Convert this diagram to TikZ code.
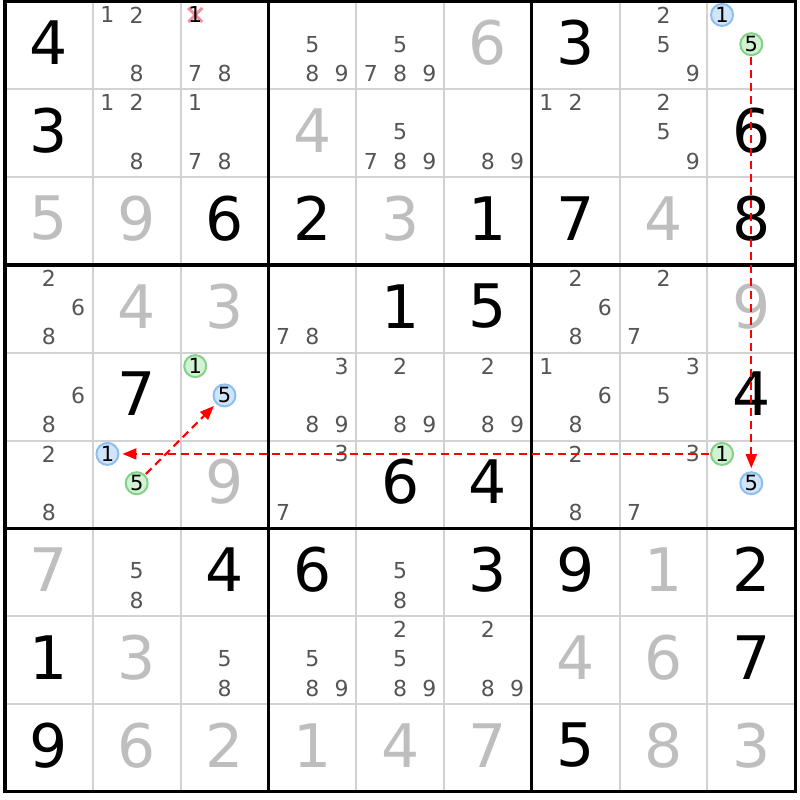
\documentclass[tikz,border=0pt]{standalone}
\usepackage{fontspec}
\setmainfont{DejaVu Sans}
\usetikzlibrary{arrows.meta,calc}
\definecolor{candgray}{RGB}{85,85,85}
\definecolor{solvedgray}{RGB}{190,190,190}
\definecolor{thingrid}{RGB}{210,210,210}
\definecolor{bluefill}{RGB}{208,228,250}
\definecolor{blueline}{RGB}{140,190,240}
\definecolor{greenfill}{RGB}{210,242,212}
\definecolor{greenline}{RGB}{130,210,135}
\definecolor{crossred}{RGB}{245,145,155}
\tikzset{
  givenst/.style={inner sep=0pt,font=\fontsize{60}{60}\selectfont,text=black},
  solvedst/.style={inner sep=0pt,font=\fontsize{60}{60}\selectfont,text=solvedgray},
  candst/.style={inner sep=0pt,font=\fontsize{22}{22}\selectfont,text=candgray},
  bluecirc/.style={circle,draw=blueline,fill=bluefill,line width=2pt,minimum size=22pt,inner sep=0pt,font=\fontsize{21}{21}\selectfont,text=black},
  greencirc/.style={circle,draw=greenline,fill=greenfill,line width=2pt,minimum size=22pt,inner sep=0pt,font=\fontsize{21}{21}\selectfont,text=black},
  chain/.style={draw=red,line width=2pt,dash pattern=on 8pt off 5pt,-{Triangle[length=14pt,width=11pt,fill=red]},shorten >=3pt,shorten <=1pt},
  thinline/.style={thingrid,line width=2pt},
  thickline/.style={black,line width=3.2pt},
}
\newcommand\sdkgiven[3]{\node[givenst] (v-#1-#2) at ({5+(#2-0.5)*87.8},{1.5+(#1-0.5)*87.8-2.5}) {#3};}
\newcommand\sdksolved[3]{\node[solvedst] (v-#1-#2) at ({5+(#2-0.5)*87.8},{1.5+(#1-0.5)*87.8-2.5}) {#3};}
\newcommand\sdkpos[3]{({5+(#2-1)*87.8+(mod(#3-1,3)+0.5)*29.267},{1.5+(#1-1)*87.8+(floor((#3-1)/3)+0.5)*29.267-1.2})}
\newcommand\sdkcand[3]{\node[candst] (k-#1-#2-#3) at \sdkpos{#1}{#2}{#3} {#3};}
\newcommand\sdkcands[3]{\foreach \sdkd in {#3}{\sdkcand{#1}{#2}{\sdkd}}}
\begin{document}
\begin{tikzpicture}[x=1pt,y=-1pt]
\useasboundingbox (0,0) rectangle (800,800);
\fill[white] (0,0) rectangle (800,800);
% thin grid lines
\foreach \i in {1,2,4,5,7,8}{
  \draw[thinline] ({5+\i*87.8},1.5) -- ({5+\i*87.8},791.7);
  \draw[thinline] (5,{1.5+\i*87.8}) -- (795.2,{1.5+\i*87.8});
}
% thick grid lines
\foreach \i in {0,3,6,9}{
  \draw[thickline] ({5+\i*87.8},0) -- ({5+\i*87.8},793.2);
  \draw[thickline] (3.4,{1.5+\i*87.8}) -- (796.8,{1.5+\i*87.8});
}
% givens
\sdkgiven{1}{1}{4}\sdkgiven{1}{7}{3}
\sdkgiven{2}{1}{3}\sdkgiven{2}{9}{6}
\sdkgiven{3}{3}{6}\sdkgiven{3}{4}{2}\sdkgiven{3}{6}{1}\sdkgiven{3}{7}{7}\sdkgiven{3}{9}{8}
\sdkgiven{4}{5}{1}\sdkgiven{4}{6}{5}
\sdkgiven{5}{2}{7}\sdkgiven{5}{9}{4}
\sdkgiven{6}{5}{6}\sdkgiven{6}{6}{4}
\sdkgiven{7}{3}{4}\sdkgiven{7}{4}{6}\sdkgiven{7}{6}{3}\sdkgiven{7}{7}{9}\sdkgiven{7}{9}{2}
\sdkgiven{8}{1}{1}\sdkgiven{8}{9}{7}
\sdkgiven{9}{1}{9}\sdkgiven{9}{7}{5}
% solved
\sdksolved{1}{6}{6}
\sdksolved{2}{4}{4}
\sdksolved{3}{1}{5}\sdksolved{3}{2}{9}\sdksolved{3}{5}{3}\sdksolved{3}{8}{4}
\sdksolved{4}{2}{4}\sdksolved{4}{3}{3}\sdksolved{4}{9}{9}
\sdksolved{6}{3}{9}
\sdksolved{7}{1}{7}\sdksolved{7}{8}{1}
\sdksolved{8}{2}{3}\sdksolved{8}{7}{4}\sdksolved{8}{8}{6}
\sdksolved{9}{2}{6}\sdksolved{9}{3}{2}\sdksolved{9}{4}{1}\sdksolved{9}{5}{4}\sdksolved{9}{6}{7}\sdksolved{9}{8}{8}\sdksolved{9}{9}{3}
% candidates
\sdkcands{1}{2}{1,2,8}\sdkcands{1}{3}{7,8}\sdkcands{1}{4}{5,8,9}\sdkcands{1}{5}{5,7,8,9}\sdkcands{1}{8}{2,5,9}
\sdkcands{2}{2}{1,2,8}\sdkcands{2}{3}{1,7,8}\sdkcands{2}{5}{5,7,8,9}\sdkcands{2}{6}{8,9}\sdkcands{2}{7}{1,2}\sdkcands{2}{8}{2,5,9}
\sdkcands{4}{1}{2,6,8}\sdkcands{4}{4}{7,8}\sdkcands{4}{7}{2,6,8}\sdkcands{4}{8}{2,7}
\sdkcands{5}{1}{6,8}\sdkcands{5}{4}{3,8,9}\sdkcands{5}{5}{2,8,9}\sdkcands{5}{6}{2,8,9}\sdkcands{5}{7}{1,6,8}\sdkcands{5}{8}{3,5}
\sdkcands{6}{1}{2,8}\sdkcands{6}{4}{3,7}\sdkcands{6}{7}{2,8}\sdkcands{6}{8}{3,7}
\sdkcands{7}{2}{5,8}\sdkcands{7}{5}{5,8}
\sdkcands{8}{3}{5,8}\sdkcands{8}{4}{5,8,9}\sdkcands{8}{5}{2,5,8,9}\sdkcands{8}{6}{2,8,9}
% eliminated candidate with cross
\coordinate (xm) at (195.23,14.9);
\draw[crossred,line width=3pt] ($(xm)+(-7,-7)$) -- ($(xm)+(7,7)$);
\draw[crossred,line width=3pt] ($(xm)+(7,-7)$) -- ($(xm)+(-7,7)$);
\node[candst,text=black] (k-1-3-1) at (xm) {1};
% circled candidates
\node[bluecirc] (c-1-9-1) at \sdkpos{1}{9}{1} {1};
\node[greencirc] (c-1-9-5) at \sdkpos{1}{9}{5} {5};
\node[greencirc] (c-5-3-1) at \sdkpos{5}{3}{1} {1};
\node[bluecirc] (c-5-3-5) at \sdkpos{5}{3}{5} {5};
\node[bluecirc] (c-6-2-1) at \sdkpos{6}{2}{1} {1};
\node[greencirc] (c-6-2-5) at \sdkpos{6}{2}{5} {5};
\node[greencirc] (c-6-9-1) at \sdkpos{6}{9}{1} {1};
\node[bluecirc] (c-6-9-5) at \sdkpos{6}{9}{5} {5};
% chain arrows
\draw[chain] (c-1-9-5) -- (c-6-9-5);
\draw[chain] (c-6-9-1) -- (c-6-2-1);
\draw[chain] (c-6-2-5) -- (c-5-3-5);
\end{tikzpicture}
\end{document}
